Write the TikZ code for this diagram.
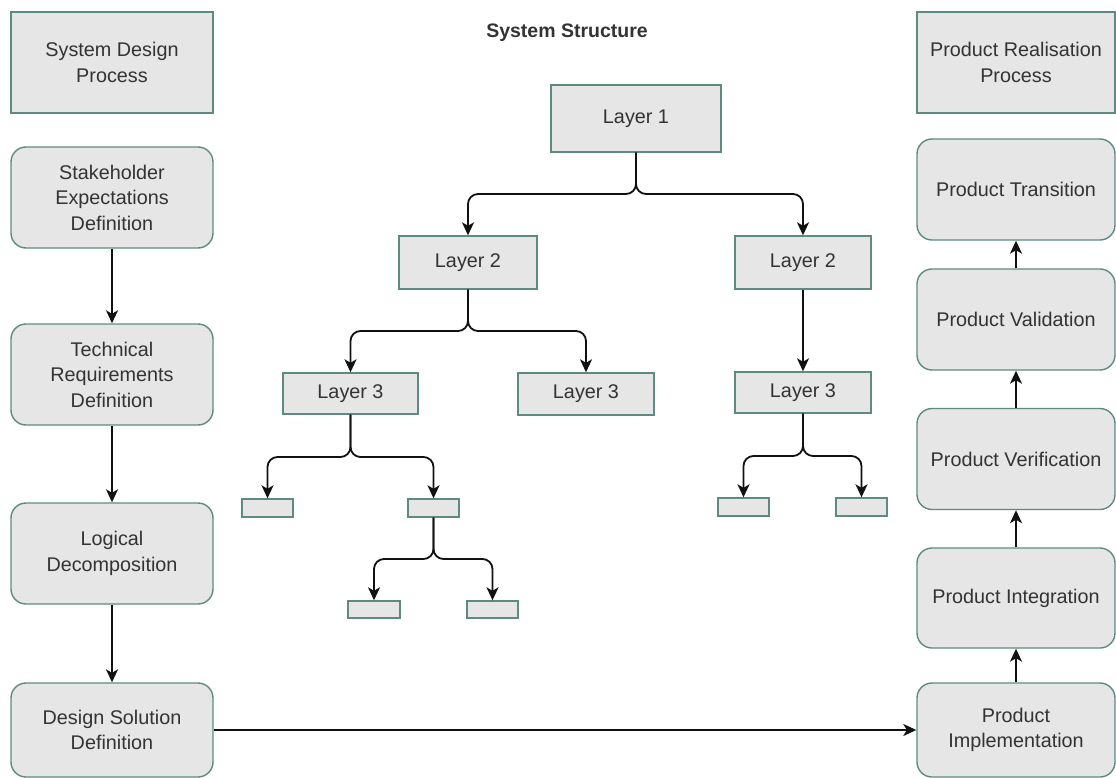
\documentclass[tikz,border=0pt]{standalone}
\usepackage{fontspec}
\setmainfont{Liberation Sans}
\usetikzlibrary{arrows.meta}
\definecolor{boxfill}{HTML}{E6E6E6}
\definecolor{boxline}{HTML}{5F8A82}
\definecolor{txt}{HTML}{333333}
\definecolor{wire}{HTML}{111111}
\begin{document}
\begin{tikzpicture}[x=1pt,y=-1pt,
  base/.style={draw=boxline, fill=boxfill, line width=1.4pt, text=txt,
    align=center, inner sep=0pt, font=\fontsize{19.8}{25.5}\selectfont},
  sqbox/.style={base},
  rbox/.style={base, rounded corners=15pt},
  colbox/.style={minimum width=202pt, minimum height=101pt},
  rcolbox/.style={minimum width=198pt, minimum height=101pt},
  conn/.style={draw=wire, line width=1.8pt, rounded corners=10pt,
    -{Stealth[length=13pt,width=12pt,inset=3.5pt]}},
  title/.style={text=txt, font=\bfseries\fontsize{19.5}{23}\selectfont}
]
\useasboundingbox (0,0) rectangle (1116,778);
\begin{scope}
\clip (0,0) rectangle (1116,778);

% design process column
\node[sqbox, colbox] (sdp) at (112,62.5) {System Design\\Process};
\node[rbox, colbox] (sed) at (112,197.5) {Stakeholder\\Expectations\\Definition};
\node[rbox, colbox] (trd) at (112,374.5) {Technical\\Requirements\\Definition};
\node[rbox, colbox] (ld)  at (112,553.5) {Logical\\Decomposition};
\node[rbox, minimum width=202pt, minimum height=94pt] (dsd) at (112,730) {Design Solution\\Definition};

% realisation column
\node[sqbox, rcolbox] (prp) at (1016,62.5) {Product Realisation\\Process};
\node[rbox, rcolbox] (ptr) at (1016,189.5) {Product Transition};
\node[rbox, rcolbox] (pval) at (1016,319.5) {Product Validation};
\node[rbox, rcolbox] (pver) at (1016,459) {Product Verification};
\node[rbox, minimum width=198pt, minimum height=100pt] (pint) at (1016,598) {Product Integration};
\node[rbox, minimum width=198pt, minimum height=94pt] (pimp) at (1016,730) {Product\\Implementation};

% system structure tree
\node[title] (ttl) at (567,33) {System Structure};
\node[sqbox, minimum width=170pt, minimum height=67pt] (l1) at (636,118.5) {Layer 1};
\node[sqbox, minimum width=138pt, minimum height=53pt] (l2a) at (468,262.5) {Layer 2};
\node[sqbox, minimum width=136pt, minimum height=53pt] (l2b) at (803,262.5) {Layer 2};
\node[sqbox, minimum width=135pt, minimum height=41pt] (l3a) at (350.5,393.5) {Layer 3};
\node[sqbox, minimum width=136pt, minimum height=42pt] (l3b) at (586,394) {Layer 3};
\node[sqbox, minimum width=136pt, minimum height=41pt] (l3c) at (803,392.5) {Layer 3};
\node[sqbox, minimum width=51pt, minimum height=18pt] (s1) at (267.5,508) {};
\node[sqbox, minimum width=51pt, minimum height=18pt] (s2) at (433.5,508) {};
\node[sqbox, minimum width=52pt, minimum height=17pt] (s3) at (374,609.5) {};
\node[sqbox, minimum width=51pt, minimum height=17pt] (s4) at (492.5,609.5) {};
\node[sqbox, minimum width=51pt, minimum height=18pt] (s5) at (743.5,507) {};
\node[sqbox, minimum width=51pt, minimum height=18pt] (s6) at (861.5,507) {};
\end{scope}

% branch levels of the tree
\coordinate (b1) at (0,194);
\coordinate (b2) at (0,331);
\coordinate (b3) at (0,457);
\coordinate (b4) at (0,559);
\coordinate (b5) at (0,456);

\draw[conn] (l1.south) -- (l1.south |- b1) -- (l2a.north |- b1) -- (l2a.north);
\draw[conn] (l1.south) -- (l1.south |- b1) -- (l2b.north |- b1) -- (l2b.north);
\draw[conn] (l2a.south) -- (l2a.south |- b2) -- (l3a.north |- b2) -- (l3a.north);
\draw[conn] (l2a.south) -- (l2a.south |- b2) -- (l3b.north |- b2) -- (l3b.north);
\draw[conn] (l2b.south) -- (l3c.north);
\draw[conn] (l3a.south) -- (l3a.south |- b3) -- (s1.north |- b3) -- (s1.north);
\draw[conn] (l3a.south) -- (l3a.south |- b3) -- (s2.north |- b3) -- (s2.north);
\draw[conn] (s2.south) -- (s2.south |- b4) -- (s3.north |- b4) -- (s3.north);
\draw[conn] (s2.south) -- (s2.south |- b4) -- (s4.north |- b4) -- (s4.north);
\draw[conn] (l3c.south) -- (l3c.south |- b5) -- (s5.north |- b5) -- (s5.north);
\draw[conn] (l3c.south) -- (l3c.south |- b5) -- (s6.north |- b5) -- (s6.north);

% process flows
\draw[conn] (sed.south) -- (trd.north);
\draw[conn] (trd.south) -- (ld.north);
\draw[conn] (ld.south) -- (dsd.north);
\draw[conn] (dsd.east) -- (pimp.west);
\draw[conn] (pimp.north) -- (pint.south);
\draw[conn] (pint.north) -- (pver.south);
\draw[conn] (pver.north) -- (pval.south);
\draw[conn] (pval.north) -- (ptr.south);
\end{tikzpicture}
\end{document}
